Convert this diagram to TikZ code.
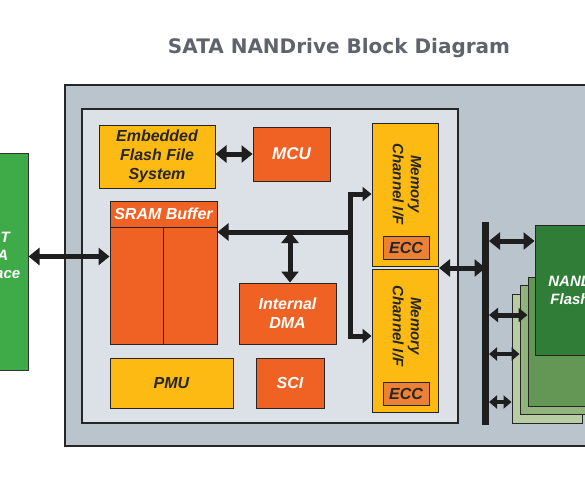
\documentclass[tikz,border=0pt]{standalone}
\usepackage{fontspec}
\setmainfont{Liberation Sans}
\newfontfamily\titlefont{DejaVu Sans}
\usetikzlibrary{arrows.meta}

\definecolor{outergray}{RGB}{185,196,205}
\definecolor{innergray}{RGB}{219,225,231}
\definecolor{chipyellow}{RGB}{253,186,19}
\definecolor{chiporange}{RGB}{240,98,36}
\definecolor{eccorange}{RGB}{236,128,52}
\definecolor{hostgreen}{RGB}{63,170,72}
\definecolor{nandA}{RGB}{48,125,55}
\definecolor{nandB}{RGB}{100,150,85}
\definecolor{nandC}{RGB}{145,180,125}
\definecolor{nandD}{RGB}{185,205,165}
\definecolor{titlegray}{RGB}{95,100,108}
\definecolor{linkblack}{RGB}{30,30,30}

\tikzset{
  blk/.style={draw=black!85, line width=1pt, inner sep=0pt, align=center,
    font=\bfseries\itshape\fontsize{16}{19}\selectfont},
  yblk/.style={blk, fill=chipyellow, text=black!85},
  oblk/.style={blk, fill=chiporange, text=white},
  nandbox/.style={draw=black!85, line width=1pt, inner sep=0pt, minimum width=70pt, minimum height=129pt},
  link/.style={draw=linkblack, line width=5pt, line join=miter,
    {Triangle[width=17pt,length=11pt]}-{Triangle[width=17pt,length=11pt]}},
  smalllink/.style={draw=linkblack, line width=4.5pt,
    {Triangle[width=13pt,length=8pt]}-{Triangle[width=13pt,length=8pt]}},
  tolink/.style={draw=linkblack, line width=5pt, line join=miter,
    {Triangle[width=14pt,length=9pt]}-{Triangle[width=14pt,length=9pt]}}
}

\begin{document}
\begin{tikzpicture}[x=1pt,y=-1pt]
  \useasboundingbox (0,0) rectangle (585,477);
  \clip (0,0) rectangle (585,477);
  \fill[white] (0,0) rectangle (585,477);

  % Title
  \node[font=\titlefont\bfseries\fontsize{20}{22}\selectfont, text=titlegray] (title) at (339,48) {SATA NANDrive Block Diagram};

  % Host side
  \node[draw=black!80, line width=1pt, fill=hostgreen, minimum width=78pt, minimum height=217pt] (host) at (-11,261.5) {};
  \node[text=white, align=center, font=\bfseries\itshape\fontsize{15}{18}\selectfont] (hostlbl) at (-11,255) {HOST\\SATA\\Interface};

  % Controller panels
  \draw[fill=outergray, draw=black!85, line width=1.2pt] (65,85) rectangle (620,446);
  \draw[fill=innergray, draw=black!85, line width=1.2pt] (82,109) rectangle (458,423);

  % Blocks
  \node[yblk, minimum width=116pt, minimum height=63pt] (effs) at (157,156.5) {Embedded\\Flash File\\System};
  \node[oblk, minimum width=77pt, minimum height=54pt, font=\bfseries\itshape\fontsize{17}{19}\selectfont] (mcu) at (291.5,154) {MCU};
  \node[oblk, minimum width=107pt, minimum height=143pt] (sram) at (163.5,272.5) {};
  \draw[black!85, line width=1pt] (110,227) -- (217,227);
  \draw[black!85, line width=1pt] (163.5,227) -- (163.5,344);
  \node[font=\bfseries\itshape\fontsize{16}{19}\selectfont, text=white] (sramlbl) at (163.5,214) {SRAM Buffer};
  \node[oblk, minimum width=97pt, minimum height=61pt] (dma) at (287.5,313.5) {Internal\\DMA};
  \node[yblk, minimum width=123pt, minimum height=50pt] (pmu) at (171.5,383) {PMU};
  \node[oblk, minimum width=68pt, minimum height=50pt] (sci) at (290,383) {SCI};

  % Memory channels
  \node[yblk, minimum width=66pt, minimum height=143pt] (mc1) at (405,194.5) {};
  \node[yblk, minimum width=66pt, minimum height=143pt] (mc2) at (405,340.5) {};
  \node[rotate=-90, font=\bfseries\itshape\fontsize{15}{18}\selectfont, text=black!85, align=center] (mc1lbl) at (407,184) {Memory\\Channel I/F};
  \node[rotate=-90, font=\bfseries\itshape\fontsize{15}{18}\selectfont, text=black!85, align=center] (mc2lbl) at (407,326) {Memory\\Channel I/F};
  \node[blk, fill=eccorange, text=black!85, minimum width=46pt, minimum height=23pt] (ecc1) at (406,247.5) {ECC};
  \node[blk, fill=eccorange, text=black!85, minimum width=46pt, minimum height=23pt] (ecc2) at (406,393.5) {ECC};

  % NAND stack
  \node[nandbox, fill=nandD] (nand4) at (547,359) {};
  \node[nandbox, fill=nandC] (nand3) at (555,349.5) {};
  \node[nandbox, fill=nandB] (nand2) at (563,341.5) {};
  \node[nandbox, fill=nandA, minimum height=130pt, text=white, align=center,
    font=\bfseries\itshape\fontsize{15}{18}\selectfont] (nand1) at (570,290) {NAND\\Flash};

  % Bus points
  \coordinate (jn) at (350,232);
  \coordinate (dj) at (290,232);
  \coordinate (bl1) at (350,194);
  \coordinate (bl2) at (350,336);
  \coordinate (mcj) at (439,268);
  \coordinate (busT) at (485.5,222);
  \coordinate (busB) at (485.5,425);
  \coordinate (rb1) at (489,241);
  \coordinate (rb2) at (489,315);
  \coordinate (rb3) at (489,354);
  \coordinate (rb4) at (489,402);

  % Connectors
  \draw[link] ([yshift=5pt]host.east) -- ([yshift=5pt]host.east -| sram.west);
  \draw[link] (mcu.west -| effs.east) -- (mcu.west);
  \draw[tolink] (bl1 -| mc1.west) -- (bl1) -- (bl2) -- (bl2 -| mc2.west);
  \draw[link, {Triangle[width=17pt,length=11pt]}-] (jn -| sram.east) -- (jn);
  \draw[link] (dj) -- (dj |- dma.north);
  \draw[draw=linkblack, line width=7pt] (busT) -- (busB);
  \draw[link] (mcj) -- (mcj -| busT);
  \draw[link] (rb1) -- (rb1 -| nand1.west);
  \draw[tolink] (rb2) -- (rb2 -| nand2.west);
  \draw[smalllink] (rb3) -- (rb3 -| nand3.west);
  \draw[smalllink] (rb4) -- (rb4 -| nand4.west);
\end{tikzpicture}
\end{document}
